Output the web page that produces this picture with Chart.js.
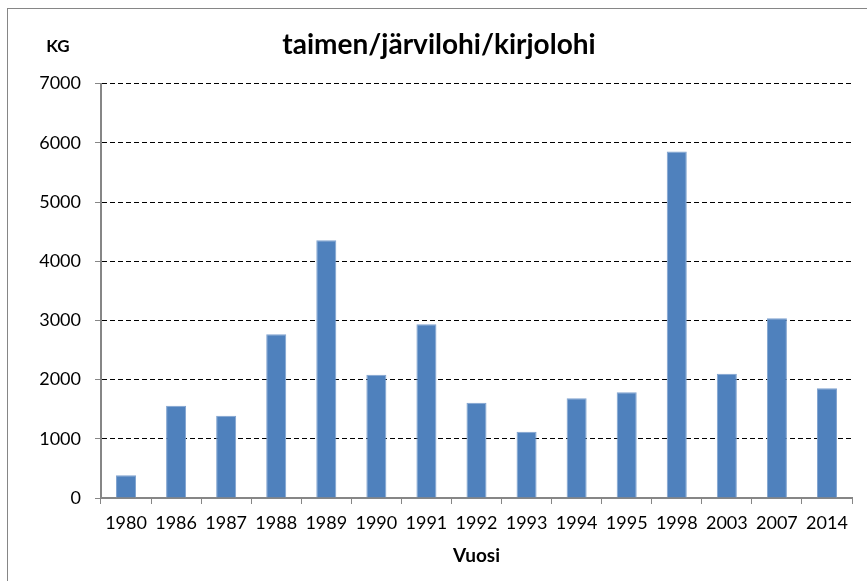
<!DOCTYPE html>
<html>
<head>
<meta charset="utf-8">
<script src="https://cdn.jsdelivr.net/npm/chart.js@4"></script>
<style>
  html, body { margin: 0; padding: 0; background: #fff; }
  #wrap { width: 867px; height: 581px; position: relative; }
</style>
</head>
<body>
<div id="wrap"><canvas id="chart"></canvas></div>
<script>
// data
const years = ['1980', '1986', '1987', '1988', '1989', '1990', '1991', '1992', '1993', '1994', '1995', '1998', '2003', '2007', '2014'];
const kilos = [385, 1560, 1390, 2765, 4355, 2080, 2935, 1610, 1120, 1685, 1785, 5855, 2100, 3035, 1855];
const yTicks = [0, 1000, 2000, 3000, 4000, 5000, 6000, 7000];

const font = 'Lato, "Open Sans", sans-serif';
const axisGray = '#868686';

// frame round the chart + the little "KG" label above the y axis
const extras = {
    id: 'extras',
    afterDraw(chart) {
        const c = chart.ctx;
        c.save();
        c.strokeStyle = axisGray;
        c.lineWidth = 1;
        c.strokeRect(7.5, 8.5, 1000, 1000);
        c.fillStyle = '#000';
        c.font = 'bold 17px ' + font;
        c.textAlign = 'center';
        c.textBaseline = 'middle';
        c.fillText('KG', 58, 47);
        c.restore();
    }
};

new Chart(document.getElementById('chart'), {
    type: 'bar',
    data: {
        labels: years,
        datasets: [{
            label: 'KG',
            data: kilos,
            backgroundColor: '#4F81BD',
            borderColor: '#7FA2CF',
            borderWidth: 1,
            barPercentage: 0.4,
            categoryPercentage: 1.0
        }]
    },
    options: {
        responsive: true,
        maintainAspectRatio: false,
        animation: false,
        layout: { padding: { left: 26, right: 15, top: 0, bottom: 0 } },
        plugins: {
            legend: { display: false },
            tooltip: { enabled: false },
            title: {
                display: true,
                text: 'taimen/järvilohi/kirjolohi',
                color: '#000',
                font: { family: font, size: 28, weight: 'bold', lineHeight: 1.2 },
                padding: { top: 28, bottom: 22 }
            }
        },
        scales: {
            x: {
                offset: true,
                grid: {
                    offset: true,
                    drawOnChartArea: false,
                    drawTicks: true,
                    tickLength: 6,
                    tickColor: axisGray
                },
                border: { color: axisGray, width: 2 },
                ticks: { color: '#000', font: { family: font, size: 18 }, padding: 8, maxRotation: 0 },
                title: {
                    display: true,
                    text: 'Vuosi',
                    color: '#000',
                    font: { family: font, size: 19, weight: 'bold', lineHeight: 1.2 },
                    padding: { top: 0, bottom: 14 }
                },
                afterFit(scale) { scale.height = 83; }
            },
            y: {
                min: 0,
                max: 7000,
                afterBuildTicks(scale) { scale.ticks = yTicks.map(v => ({ value: v })); },
                grid: {
                    color: ctx => (ctx.tick && ctx.tick.value === 0) ? 'rgba(0,0,0,0)' : '#000',
                    lineWidth: 1,
                    tickLength: 6,
                    tickColor: axisGray
                },
                border: { color: axisGray, width: 2, dash: [5, 3] },
                ticks: {
                    color: '#000',
                    font: { family: font, size: 18 },
                    padding: 14,
                    callback: v => String(v)
                },
                afterFit(scale) { scale.width = 75; }
            }
        }
    },
    plugins: [extras]
});
</script>
</body>
</html>
